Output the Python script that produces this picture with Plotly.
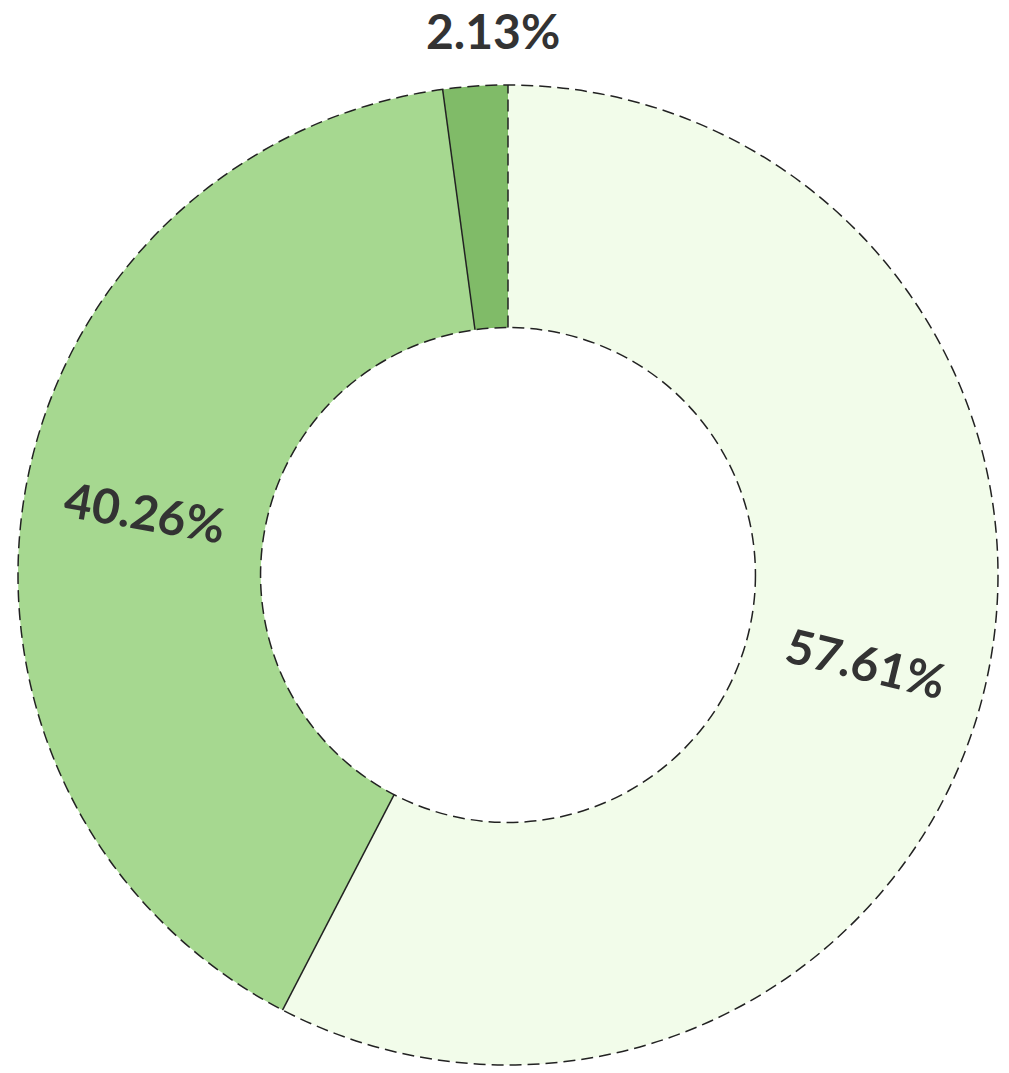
import numpy as np
import plotly.graph_objects as go

# ---- data ----
categories = ["A", "B", "C"]
values = [57.61, 40.26, 2.13]
colors = ["#f2fcea", "#a6d890", "#80bb68"]
label_inside = [True, True, False]

W, H = 1009, 1073
CX, CY, R = 508, 575, 490
HOLE = 0.505
FONT = dict(family="Lato", size=48, color="#333333", weight="bold")

fig = go.Figure(go.Pie(
    labels=categories,
    values=values,
    sort=False,
    direction="clockwise",
    rotation=0,
    hole=HOLE,
    marker=dict(colors=colors, line=dict(width=0)),
    textinfo="none",
    showlegend=False,
    hoverinfo="skip",
    domain=dict(x=[(CX - R) / W, (CX + R) / W],
                y=[(H - CY - R) / H, (H - CY + R) / H]),
))

def px2paper(x, y):
    return x / W, 1 - y / H

shapes = []
line_col = "#222222"
DASH = "12px,6px"
# outer and inner dashed circles
for rr in (R, R * HOLE):
    x0, y0 = px2paper(CX - rr, CY + rr)
    x1, y1 = px2paper(CX + rr, CY - rr)
    shapes.append(dict(type="circle", xref="paper", yref="paper",
                       x0=x0, y0=y0, x1=x1, y1=y1,
                       line=dict(color=line_col, width=1.5, dash=DASH),
                       layer="above"))

total = sum(values)
fracs = np.array(values) / total
starts = np.concatenate([[0], np.cumsum(fracs)[:-1]])
mids = starts + fracs / 2

# slice boundaries
for i, f in enumerate(starts):
    th = 2 * np.pi * f
    xa, ya = px2paper(CX + R * HOLE * np.sin(th), CY - R * HOLE * np.cos(th))
    xb, yb = px2paper(CX + R * np.sin(th), CY - R * np.cos(th))
    shapes.append(dict(type="line", xref="paper", yref="paper",
                       x0=xa, y0=ya, x1=xb, y1=yb,
                       line=dict(color=line_col, width=1.5,
                                 dash=DASH if i == 0 else "solid"),
                       layer="above"))

# labels (radially oriented inside the ring, horizontal outside)
annotations = []
for v, m, inside in zip(values, mids, label_inside):
    th = 2 * np.pi * m
    deg = np.degrees(th)
    if inside:
        rl = R * (1 + HOLE) / 2
        ang = deg - 90 if deg < 180 else deg - 270
        xs = 0
    else:
        rl = R + 56
        ang = 0
        xs = 22
    x, y = px2paper(CX + rl * np.sin(th), CY - rl * np.cos(th))
    annotations.append(dict(x=x, y=y, xref="paper", yref="paper",
                            text=f"{v:.2f}%", showarrow=False,
                            textangle=ang, xshift=xs,
                            xanchor="center", yanchor="middle",
                            font=FONT))

fig.update_layout(
    width=W, height=H,
    margin=dict(l=0, r=0, t=0, b=0),
    paper_bgcolor="white",
    plot_bgcolor="white",
    shapes=shapes,
    annotations=annotations,
)

fig.write_html("out.html")
